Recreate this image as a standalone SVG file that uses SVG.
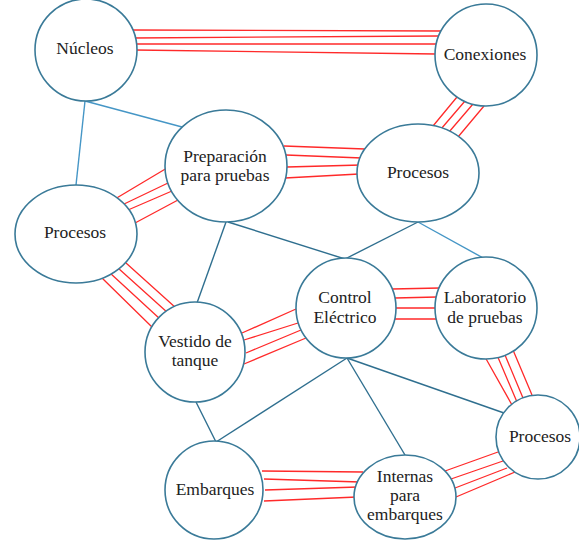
<svg xmlns="http://www.w3.org/2000/svg" width="579" height="541" viewBox="0 0 579 541">
  <style>
    .node { fill: #ffffff; stroke: #3a7a98; stroke-width: 1.6; }
    .lbl { font-size: 17.5px; fill: #222222; text-anchor: middle; }
    .link { stroke: #2f6f8f; stroke-width: 1.4; fill: none; }
    .light { stroke: #4596c6; }
    .red { stroke: #ff2a2a; stroke-width: 1.3; }
  </style>
  <rect width="579" height="541" fill="#ffffff"/>

  <g id="connectors">
    <line class="link light" x1="85" y1="101" x2="76" y2="185"/>
    <line class="link light" x1="85" y1="101" x2="182" y2="127"/>
    <line class="link" x1="226" y1="222" x2="197" y2="303"/>
    <line class="link" x1="228" y1="222" x2="345" y2="259"/>
    <line class="link" x1="418" y1="222" x2="345" y2="259"/>
    <line class="link light" x1="418" y1="222" x2="485" y2="259"/>
    <line class="link" x1="347" y1="358" x2="216" y2="442"/>
    <line class="link" x1="347" y1="358" x2="405" y2="455"/>
    <line class="link" x1="347" y1="358" x2="504" y2="413"/>
    <line class="link" x1="196" y1="402" x2="216" y2="442"/>

    <path class="red" d="M132 30L442 31M133 38L439 36M120 44L437 44M135 50L436 54"/>
    <path class="red" d="M457 97L433 126M465 101L441 129M473 104L449 132M484 106L458 137"/>
    <path class="red" d="M284 146L365 149M286 155L362 158M287 167L361 165M285 178L359 174"/>
    <path class="red" d="M115 199L167 168M122 205L168 183M128 210L172 191M135 223L178 200"/>
    <path class="red" d="M102 278L153 328M110 273L160 319M118 268L168 313M126 263L176 308"/>
    <path class="red" d="M242 333L296 309M244 340L298 323M246 353L301 330M244 364L306 338"/>
    <path class="red" d="M392 289L440 288M395 298L437 297M396 308L436 308M395 319L437 319"/>
    <path class="red" d="M485 357L512 405M497 355L517 402M505 355L523 398M513 350L532 395"/>
    <path class="red" d="M262 471L363 472M264 479L360 482M265 490L358 487M264 501L357 497"/>
    <path class="red" d="M445 471L498 452M451 479L503 461M455 488L507 468M456 497L515 472"/>
  </g>

  <g id="nucleos">
    <circle class="node" cx="86" cy="50" r="51"/>
    <text class="lbl" x="85" y="54" font-family="Times New Roman">Núcleos</text>
  </g>
  <g id="conexiones">
    <circle class="node" cx="486" cy="55" r="51"/>
    <text class="lbl" x="485" y="60" font-family="Times New Roman">Conexiones</text>
  </g>
  <g id="preparacion">
    <ellipse class="node" cx="226" cy="166" rx="61" ry="56"/>
    <text class="lbl" x="225" y="162" font-family="Times New Roman">Preparación</text>
    <text class="lbl" x="225" y="181" font-family="Times New Roman">para pruebas</text>
  </g>
  <g id="procesos-izq">
    <ellipse class="node" cx="76" cy="234" rx="61" ry="49"/>
    <text class="lbl" x="75" y="238" font-family="Times New Roman">Procesos</text>
  </g>
  <g id="procesos-sup">
    <ellipse class="node" cx="418" cy="173" rx="61" ry="49"/>
    <text class="lbl" x="418" y="178" font-family="Times New Roman">Procesos</text>
  </g>
  <g id="control">
    <circle class="node" cx="346" cy="308" r="50"/>
    <text class="lbl" x="345" y="303" font-family="Times New Roman">Control</text>
    <text class="lbl" x="345" y="323" font-family="Times New Roman">Eléctrico</text>
  </g>
  <g id="laboratorio">
    <circle class="node" cx="486" cy="308" r="51"/>
    <text class="lbl" x="485" y="303" font-family="Times New Roman">Laboratorio</text>
    <text class="lbl" x="485" y="323" font-family="Times New Roman">de pruebas</text>
  </g>
  <g id="vestido">
    <circle class="node" cx="195" cy="352" r="50"/>
    <text class="lbl" x="195" y="347" font-family="Times New Roman">Vestido de</text>
    <text class="lbl" x="195" y="366" font-family="Times New Roman">tanque</text>
  </g>
  <g id="embarques">
    <circle class="node" cx="214" cy="490" r="49"/>
    <text class="lbl" x="215" y="495" font-family="Times New Roman">Embarques</text>
  </g>
  <g id="internas">
    <ellipse class="node" cx="405" cy="497" rx="51" ry="42"/>
    <text class="lbl" x="405" y="482" font-family="Times New Roman">Internas</text>
    <text class="lbl" x="405" y="501" font-family="Times New Roman">para</text>
    <text class="lbl" x="405" y="520" font-family="Times New Roman">embarques</text>
  </g>
  <g id="procesos-der">
    <circle class="node" cx="538" cy="437" r="42"/>
    <text class="lbl" x="540" y="442" font-family="Times New Roman">Procesos</text>
  </g>
</svg>
